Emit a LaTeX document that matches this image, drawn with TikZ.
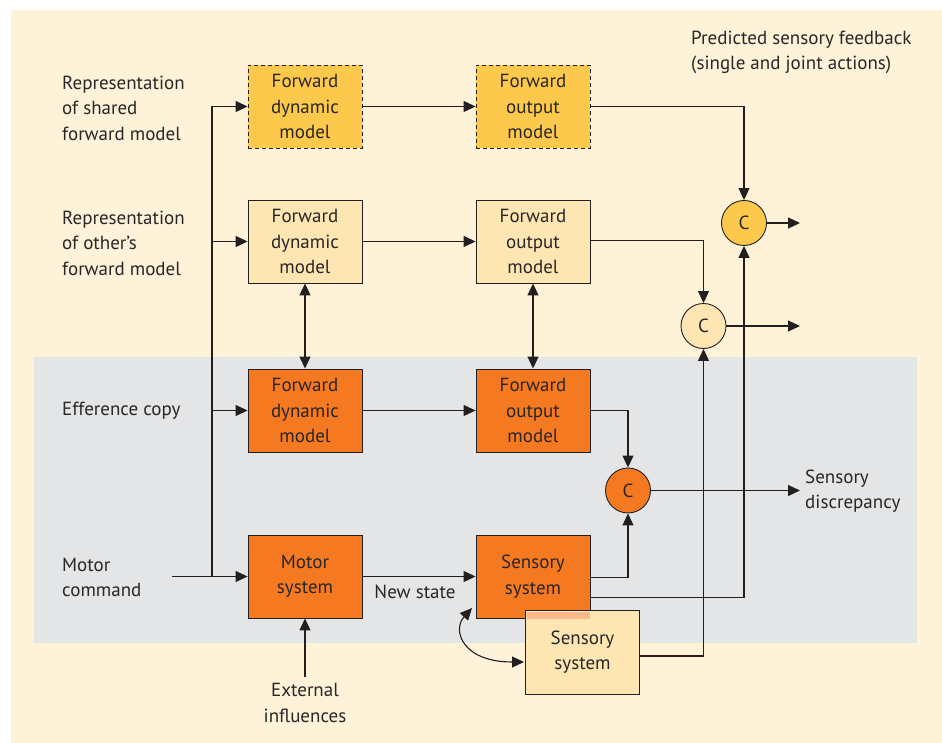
\documentclass[tikz,border=0pt]{standalone}
\usepackage{fontspec}
\setmainfont{PT Sans}
\usetikzlibrary{arrows.meta}
\definecolor{bgbeige}{HTML}{FEF3D9}
\definecolor{bandgray}{HTML}{E4E5E7}
\definecolor{orangebox}{HTML}{F47920}
\definecolor{goldbox}{HTML}{FDC94C}
\definecolor{lightbox}{HTML}{FEE6B3}
\definecolor{salmon}{HTML}{F9B98A}
\definecolor{linec}{HTML}{231F20}
\definecolor{textc}{HTML}{2A2627}
\tikzset{
  box/.style={line width=0.9pt, minimum width=114pt, minimum height=83pt,
    align=center, inner sep=0pt, text=textc},
  cnode/.style={circle, draw=linec, line width=0.9pt, minimum size=45pt,
    inner sep=0pt, text=textc},
  arr/.style={draw=linec, line width=1.1pt, -{Triangle[length=12pt,width=11pt]}},
  darr/.style={draw=linec, line width=1.1pt, {Triangle[length=12pt,width=11pt]}-{Triangle[length=12pt,width=11pt]}},
  lbl/.style={align=left, inner sep=0pt, text=textc},
  dashbox/.style={dash pattern=on 4pt off 3pt},
}
\begin{document}
\begin{tikzpicture}[x=1pt,y=-1pt,font=\fontsize{19}{25.5}\selectfont]
\useasboundingbox (0,0) rectangle (942,743);
\fill[white] (0,0) rectangle (942,743);
\fill[bgbeige] (11,10) rectangle (942,743);
\fill[bandgray] (34,357) rectangle (917,643);

% boxes
\node[box, fill=goldbox, draw=linec, dashbox] (fd1) at (305,106.5) {Forward\\dynamic\\model};
\node[box, fill=goldbox, draw=linec, dashbox] (fo1) at (533,106.5) {Forward\\output\\model};
\node[box, fill=lightbox, draw=linec] (fd2) at (305,241.5) {Forward\\dynamic\\model};
\node[box, fill=lightbox, draw=linec] (fo2) at (533,241.5) {Forward\\output\\model};
\node[box, fill=orangebox, draw=linec] (fd3) at (305,410.5) {Forward\\dynamic\\model};
\node[box, fill=orangebox, draw=linec] (fo3) at (533,410.5) {Forward\\output\\model};
\node[box, fill=orangebox, draw=linec] (ms) at (305,576.5) {Motor\\system};
\node[box, fill=orangebox, draw=linec] (ss) at (533,576.5) {Sensory\\system};
\node[box, fill=lightbox, minimum width=113pt] (ss2) at (582.5,652) {Sensory\\system};
\fill[salmon] (526.5,611.5) rectangle (589.5,619);
\draw[linec, line width=0.9pt] (ss2.north west) rectangle (ss2.south east);

% comparators
\node[cnode, fill=goldbox] (c1) at (744,223) {C};
\node[cnode, fill=lightbox] (c2) at (703.5,326) {C};
\node[cnode, fill=orangebox] (c3) at (628,490.5) {C};

% labels
\node[lbl, anchor=west] (l1) at (62,108) {Representation\\of shared\\forward model};
\node[lbl, anchor=west] (l2) at (62,243) {Representation\\of other’s\\forward model};
\node[lbl, anchor=west] (l3) at (62,411) {Efference copy};
\node[lbl, anchor=west] (l4) at (62,577.5) {Motor\\command};
\node[lbl, anchor=west] (l5) at (691,52.5) {Predicted sensory feedback\\(single and joint actions)};
\node[lbl, anchor=west] (l6) at (805,491) {Sensory\\discrepancy};
\node[lbl, align=center] (ext) at (305,703) {External\\influences};
\node[lbl] (nst) at (415,592) {New state};

% coordinates
\coordinate (mcstart) at (172,576.5);
\coordinate (spine) at (212,576.5);
\coordinate (extc) at (305,677);
\coordinate (c1out) at (800,223);
\coordinate (c2out) at (800,326);
\coordinate (c3out) at (800,490.5);
\coordinate (cvA) at (472,608);
\coordinate (cvB) at (524,662);

% connectors
\draw[arr] (mcstart) -- (ms.west);
\draw[arr] (spine) |- (fd1.west);
\draw[arr] (spine) |- (fd2.west);
\draw[arr] (spine) |- (fd3.west);
\draw[arr] (fd1.east) -- (fo1.west);
\draw[arr] (fd2.east) -- (fo2.west);
\draw[arr] (fd3.east) -- (fo3.west);
\draw[arr] (ms.east) -- (ss.west);
\draw[arr] (extc) -- (ms.south);
\draw[darr] (fd2.south) -- (fd3.north);
\draw[darr] (fo2.south) -- (fo3.north);
\draw[arr] (fo1.east) -| (c1.north);
\draw[arr] ([yshift=1pt]fo2.east) -| (c2.north);
\draw[arr] (fo3.east) -| (c3.north);
\draw[arr] ([yshift=-1pt]ss.east) -| (c3.south);
\draw[arr] ([yshift=-21pt]ss.east) -| (c1.south);
\draw[arr] ([yshift=-4pt]ss2.east) -| (c2.south);
\draw[arr] (c1.east) -- (c1out);
\draw[arr] (c2.east) -- (c2out);
\draw[arr] (c3.east) -- (c3out);
\draw[darr] (cvA) .. controls (452,630) and (462,662) .. (cvB);
\end{tikzpicture}
\end{document}
